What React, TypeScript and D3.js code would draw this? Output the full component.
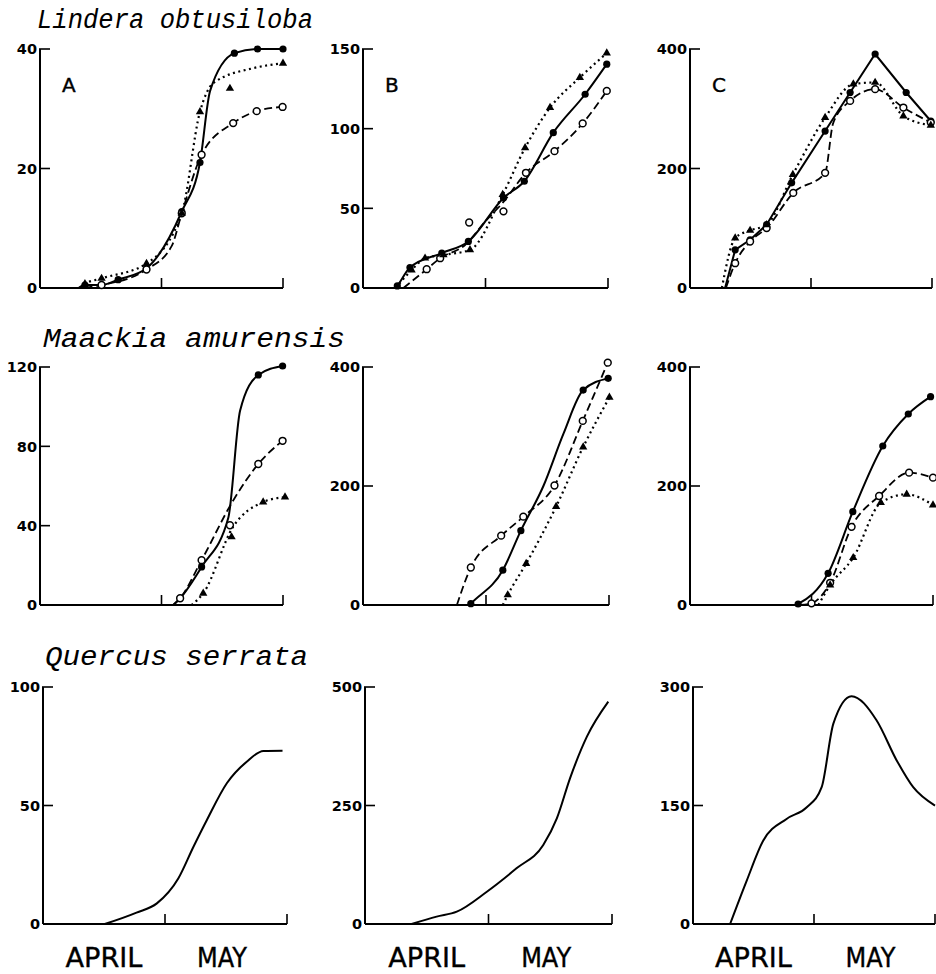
import React, { useEffect, useRef } from "react";
import * as d3 from "d3";

// [day, value, flag]  day 0 = 1 April, 30 = 1 May, 60 = 31 May
// flag 0 = curve only (no marker), 2 = marker only (off the curve)
type Pt = [number, number, number?];

const species = ["Lindera obtusiloba", "Maackia amurensis", "Quercus serrata"];
const panelLetters = ["A", "B", "C"];
const months = ["APRIL", "MAY"];
const monthDays = [15, 44];
const monthTicks = [30, 60];

const yTicks = [
  [[0, 20, 40], [0, 50, 100, 150], [0, 200, 400]],
  [[0, 40, 80, 120], [0, 200, 400], [0, 200, 400]],
  [[0, 50, 100], [0, 250, 500], [0, 150, 300]],
];

// Lindera obtusiloba
const lindA_solid: Pt[] = [[9.5, 0, 0], [11.1, 0.5], [15.2, 0.5], [19.3, 1.4], [26.3, 3.3], [35, 12.8], [39.5, 21], [42, 33, 0], [48, 39.3], [53.7, 40], [60, 40]];
const lindA_dashed: Pt[] = [[11, 0, 0], [15.2, 0.5], [26.3, 3.1], [32.5, 7, 0], [35, 12.5], [39.9, 22.3], [47.7, 27.6], [53.5, 29.6], [59.9, 30.3]];
const lindA_dotted: Pt[] = [[9.9, 0, 0], [11.1, 0.7], [15.2, 1.6], [26.3, 4.1], [35, 12.5], [39.5, 29.5], [42.8, 34.3, 0], [46.9, 33.4, 2], [52.7, 36.8, 0], [60, 37.6]];
const lindB_solid: Pt[] = [[8, 0, 0], [8.4, 1.3], [11.5, 12.8], [19.3, 21.9], [25.8, 29.2], [34.4, 56.5], [39.5, 67], [46.6, 97.5], [54.4, 121.6], [59.7, 140.5]];
const lindB_dashed: Pt[] = [[9.9, 0, 0], [15.6, 11.8], [18.9, 18.7], [25, 27, 0], [26, 41.1, 2], [30, 42, 0], [34.4, 48.1, 2], [34.4, 54, 0], [39.9, 72.3], [46.9, 85.9], [53.8, 103.3], [59.7, 123.7]];
const lindB_dotted: Pt[] = [[8, 0, 0], [11.9, 11.3], [15.2, 18.7], [19.7, 20.8], [26.2, 23.9], [34.2, 58.6], [39.7, 88], [45.8, 113.2], [53.1, 132.1], [59.7, 147.4]];
const lindC_solid: Pt[] = [[8.7, 0, 0], [11.2, 63.9], [14.9, 80.7], [19, 105.9], [25.2, 176], [33.5, 262.7], [39.7, 327.2], [45.9, 391.6], [53.6, 327.2], [59.7, 279.5]];
const lindC_dashed: Pt[] = [[8.9, 0, 0], [11.2, 41.5], [14.9, 77.8], [19, 100.3], [25.6, 159.1], [33.5, 192.7], [35.5, 276, 0], [39.7, 313.1], [45.9, 332.8], [52.9, 302], [59.7, 276.8]];
const lindC_dotted: Pt[] = [[7.9, 0, 0], [11.2, 83.5], [14.9, 96.3], [19, 105.9], [25.5, 189.9], [33.5, 285.2], [40.5, 341.2], [45.9, 344], [52.9, 287.9], [59.7, 272.3]];

// Maackia amurensis
const maacA_solid: Pt[] = [[32.9, 0, 0], [34.6, 3.4], [39.9, 19.2], [46.5, 44, 0], [49.4, 97.9, 0], [53.9, 116], [59.9, 120.5]];
const maacA_dashed: Pt[] = [[32.9, 0, 0], [34.6, 3.4], [39.9, 22.6], [46.9, 40.2, 2], [47.7, 52.7, 0], [53.9, 71.1], [59.9, 82.8]];
const maacA_dotted: Pt[] = [[37.4, 0, 0], [40.3, 5.9], [47.3, 34.3, 2], [47.7, 39.5, 0], [55.1, 51.9], [60.5, 54.4]];
const maacB_solid: Pt[] = [[26, 0, 0], [26.3, 2.2], [34.1, 58.5], [38.5, 124.9], [44, 200, 0], [48.9, 288, 0], [53.7, 361.2], [59.8, 380.9]];
const maacB_dashed: Pt[] = [[22.9, 0, 0], [26.3, 63], [33.7, 116.5], [39.1, 148.5], [46.7, 200.8], [53.6, 309.4], [59.7, 407.3]];
const maacB_dotted: Pt[] = [[34.1, 0, 0], [35.3, 16.9], [39.8, 69.7], [47.1, 165.4], [53.7, 265.5], [60.1, 348.9]];
const maacC_solid: Pt[] = [[26.2, 0, 0], [26.7, 1.7], [34.1, 53.2], [40.2, 156.8], [47.6, 267.2], [53.9, 321], [59.4, 350.1]];
const maacC_dashed: Pt[] = [[27.2, 0, 0], [30, 2.8], [34.6, 37.3], [39.9, 131.4], [46.7, 183.2], [54.1, 222.4], [60, 214]];
const maacC_dotted: Pt[] = [[31.7, 0, 0], [34.6, 33.6], [40.3, 79.5], [47.1, 171.9], [53.5, 186], [60, 168]];

// Quercus serrata
const querA: Pt[] = [[15.2, 0], [23, 4.8], [28, 8.7], [33.3, 19.3], [37, 32.6], [40.3, 43.9], [45.2, 59.4], [50.1, 68.5], [54.2, 73], [58.9, 73.1]];
const querB: Pt[] = [[11.3, 0], [17.4, 15.5], [22.3, 26], [29.6, 68.1], [36.8, 117.4], [43.3, 166.7], [46.6, 222.9], [49.8, 307.4], [53.9, 395.2], [59.1, 469]];
const querC: Pt[] = [[9.2, 0], [13.3, 54.6], [17.4, 105.4], [23.2, 133], [28.2, 147.8], [31.9, 173.2], [34.8, 253.7], [39.3, 288.4], [45.5, 257.9], [50.5, 207.1], [54.6, 173.2], [60, 149.9]];

type Series = { pts: Pt[]; style: "solid" | "dashed" | "dotted"; linear?: boolean };

const panelSeries: Series[][][] = [
  [
    [{ pts: lindA_solid, style: "solid" }, { pts: lindA_dashed, style: "dashed" }, { pts: lindA_dotted, style: "dotted" }],
    [{ pts: lindB_solid, style: "solid" }, { pts: lindB_dashed, style: "dashed" }, { pts: lindB_dotted, style: "dotted" }],
    [{ pts: lindC_solid, style: "solid", linear: true }, { pts: lindC_dashed, style: "dashed" }, { pts: lindC_dotted, style: "dotted" }],
  ],
  [
    [{ pts: maacA_solid, style: "solid" }, { pts: maacA_dashed, style: "dashed" }, { pts: maacA_dotted, style: "dotted" }],
    [{ pts: maacB_solid, style: "solid" }, { pts: maacB_dashed, style: "dashed" }, { pts: maacB_dotted, style: "dotted" }],
    [{ pts: maacC_solid, style: "solid" }, { pts: maacC_dashed, style: "dashed" }, { pts: maacC_dotted, style: "dotted" }],
  ],
  [[{ pts: querA, style: "solid" }], [{ pts: querB, style: "solid" }], [{ pts: querC, style: "solid" }]],
];

// layout (pixels)
const rowBox = [
  { top: 49, bot: 288, title: 28, titleX: 37, titleW: 276 },
  { top: 367, bot: 605, title: 347, titleX: 43, titleW: 302 },
  { top: 687, bot: 924, title: 665, titleX: 45, titleW: 263 },
];
const colBox = [
  [[40, 283], [363, 608], [690, 932]],
  [[40, 283], [363, 609], [690, 933]],
  [[43, 287], [365, 612], [693, 935]],
];

const App = () => {
  const ref = useRef<SVGSVGElement>(null);

  useEffect(() => {
    const svg = d3.select(ref.current);
    svg.selectAll("*").remove();

    rowBox.forEach((rb, r) => {
      svg
        .append("text")
        .attr("x", rb.titleX)
        .attr("y", rb.title)
        .attr("font-family", "Liberation Mono")
        .attr("font-style", "italic")
        .attr("font-size", 27)
        .attr("textLength", rb.titleW)
        .attr("lengthAdjust", "spacingAndGlyphs")
        .text(species[r]);

      colBox[r].forEach(([x0, x1], c) => {
        const ticks = yTicks[r][c];
        const xScale = d3.scaleLinear().domain([0, 60]).range([x0, x1]);
        const yScale = d3.scaleLinear().domain([0, ticks[ticks.length - 1]]).range([rb.bot, rb.top]);
        const g = svg.append("g");

        // axes
        g.append("line").attr("x1", x0).attr("x2", x0).attr("y1", rb.bot).attr("y2", rb.top)
          .attr("stroke", "#000").attr("stroke-width", 2);
        g.append("line").attr("x1", x0).attr("x2", x1).attr("y1", rb.bot).attr("y2", rb.bot)
          .attr("stroke", "#000").attr("stroke-width", 2);

        ticks.forEach((t) => {
          if (t > 0) {
            g.append("line").attr("x1", x0 - 1).attr("x2", x0 + 10)
              .attr("y1", yScale(t)).attr("y2", yScale(t))
              .attr("stroke", "#000").attr("stroke-width", 1.6);
          }
          g.append("text")
            .attr("x", x0 - 3)
            .attr("y", yScale(t))
            .attr("dy", "0.36em")
            .attr("text-anchor", "end")
            .attr("font-family", "DejaVu Sans")
            .attr("font-weight", "bold")
            .attr("font-size", 14.5)
            .text(t);
        });

        monthTicks.forEach((d) => {
          g.append("line").attr("x1", xScale(d)).attr("x2", xScale(d))
            .attr("y1", rb.bot).attr("y2", rb.bot - 10)
            .attr("stroke", "#000").attr("stroke-width", 1.6);
        });

        if (r === 0) {
          g.append("text")
            .attr("x", x0 + 22)
            .attr("y", 92)
            .attr("font-family", "DejaVu Sans")
            .attr("font-size", 20)
            .attr("stroke", "#000")
            .attr("stroke-width", 0.4)
            .text(panelLetters[c]);
        }

        if (r === 2) {
          months.forEach((m, i) => {
            g.append("text")
              .attr("x", xScale(monthDays[i]))
              .attr("y", 967)
              .attr("text-anchor", "middle")
              .attr("font-family", "DejaVu Sans")
              .attr("font-size", 26)
              .attr("stroke", "#000")
              .attr("stroke-width", 0.35)
              .attr("textLength", i === 0 ? 77 : 50)
              .attr("lengthAdjust", "spacingAndGlyphs")
              .text(m);
          });
        }

        panelSeries[r][c].forEach((s) => {
          const line = d3
            .line<Pt>()
            .x((d) => xScale(d[0]))
            .y((d) => yScale(d[1]))
            .curve(s.linear ? d3.curveLinear : d3.curveMonotoneX);
          const linePts = s.pts.filter((d) => d[2] !== 2);
          const path = g.append("path")
            .attr("d", line(linePts))
            .attr("fill", "none")
            .attr("stroke", "#000");
          if (s.style === "solid") path.attr("stroke-width", 2);
          if (s.style === "dashed") path.attr("stroke-width", 1.8).attr("stroke-dasharray", "8 4");
          if (s.style === "dotted") path.attr("stroke-width", 2.2).attr("stroke-dasharray", "2 3.5");

          if (r === 2) return;
          const marks = s.pts.filter((d) => d[2] !== 0);
          if (s.style === "solid") {
            g.selectAll(null).data(marks).enter().append("circle")
              .attr("cx", (d) => xScale(d[0])).attr("cy", (d) => yScale(d[1]))
              .attr("r", 3.6).attr("fill", "#000");
          } else if (s.style === "dashed") {
            g.selectAll(null).data(marks).enter().append("circle")
              .attr("cx", (d) => xScale(d[0])).attr("cy", (d) => yScale(d[1]))
              .attr("r", 3.4).attr("fill", "#fff").attr("stroke", "#000").attr("stroke-width", 1.5);
          } else {
            const tri = d3.symbol().type(d3.symbolTriangle).size(30);
            g.selectAll(null).data(marks).enter().append("path")
              .attr("d", tri() as string)
              .attr("transform", (d) => `translate(${xScale(d[0])},${yScale(d[1])})`)
              .attr("fill", "#000");
          }
        });
      });
    });
  }, []);

  return (
    <svg
      ref={ref}
      width={936}
      height={974}
      style={{ position: "absolute", left: 0, top: 0, background: "#fff" }}
    ></svg>
  );
};

export default App;
